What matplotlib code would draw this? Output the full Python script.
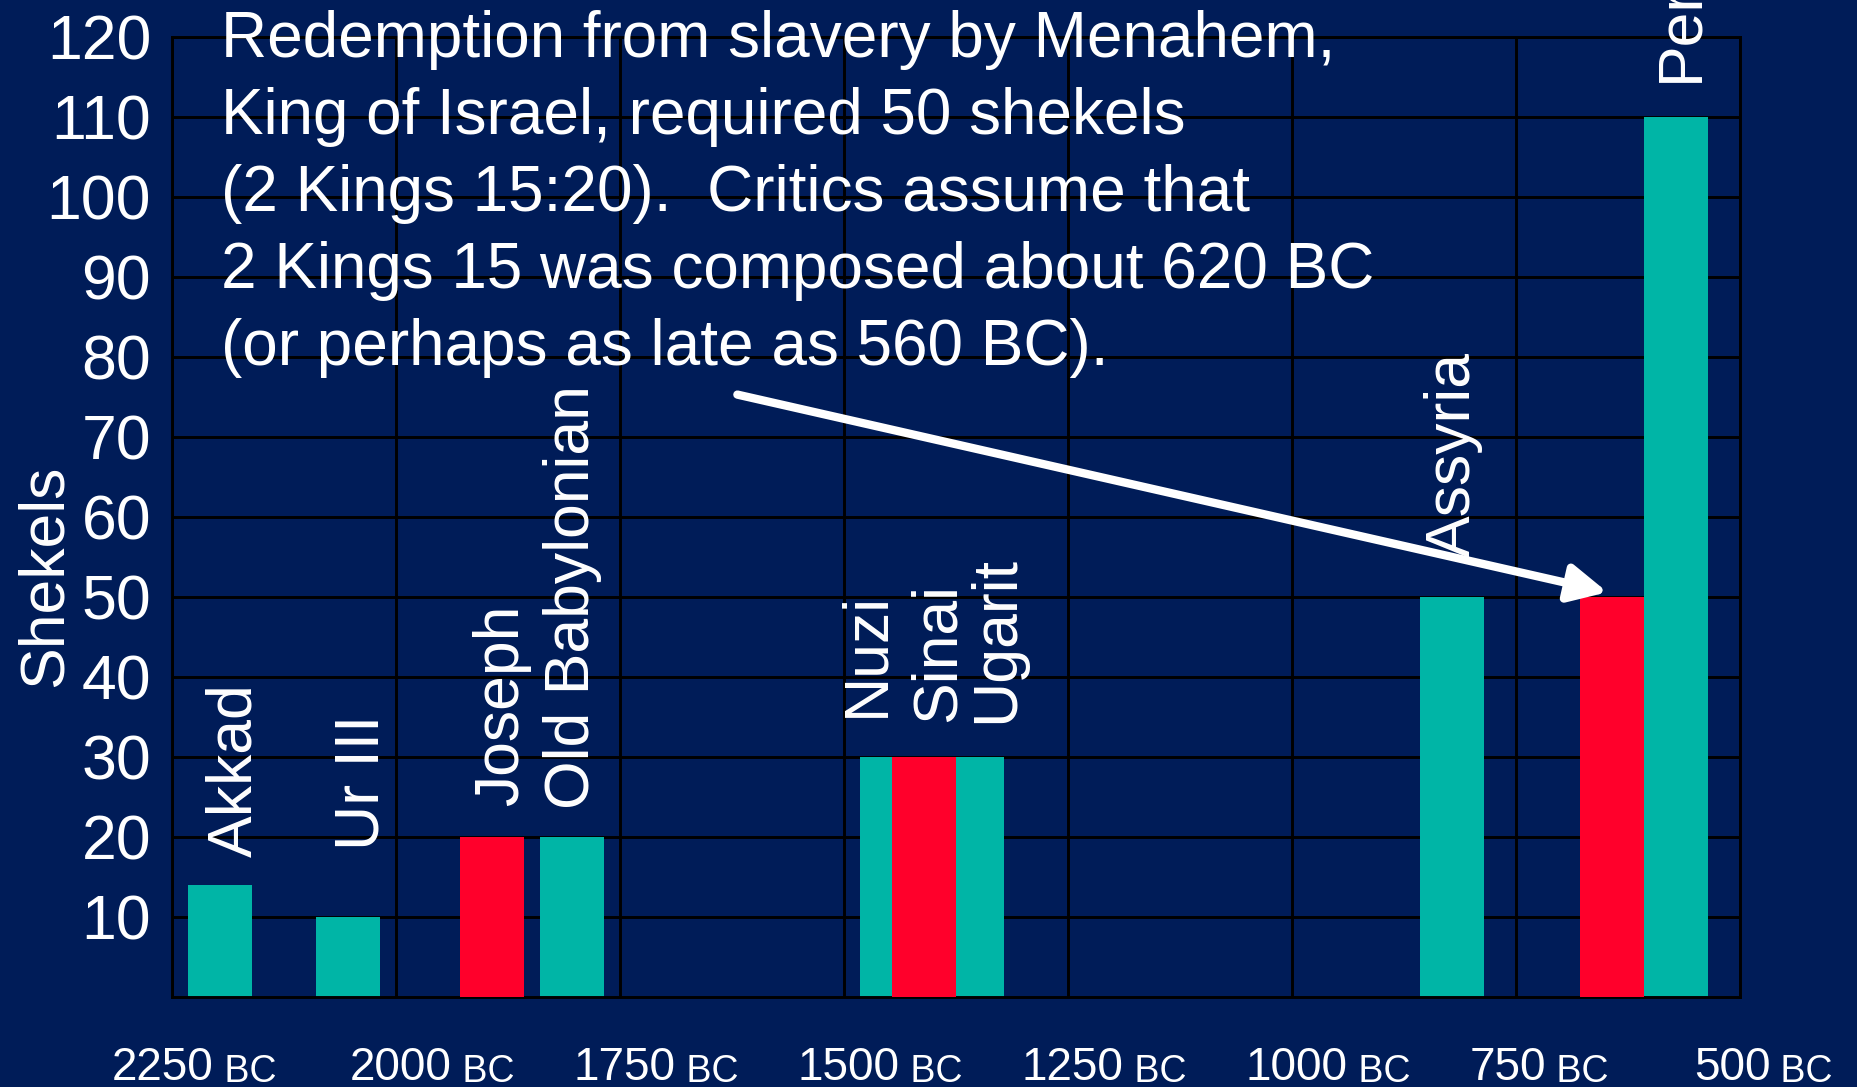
import matplotlib
matplotlib.use("Agg")
import matplotlib.pyplot as plt
from matplotlib.transforms import ScaledTranslation

plt.rcParams['font.family'] = ['Liberation Sans', 'DejaVu Sans']

BG = '#001C58'
TEAL = '#00B5A6'
RED = '#FF002B'

# bars: position in years BC, height in shekels
teal_names = ['Akkad', 'Ur III', 'Old Babylonian', 'Nuzi', 'Ugarit', 'Assyria', 'Persia']
teal_years = [2196, 2054, 1804, 1446, 1357, 821, 571]
teal_shekels = [14, 10, 20, 30, 30, 50, 110]

red_names = ['Joseph', 'Sinai', 'Menahem']
red_years = [1893, 1411, 643]
red_shekels = [20, 30, 50]

# rotated labels and where they start (year BC, shekels)
label_names = ['Akkad', 'Ur III', 'Joseph', 'Old Babylonian', 'Nuzi', 'Sinai', 'Ugarit', 'Assyria', 'Persia']
label_years = [2161, 2020, 1864, 1785, 1456, 1377, 1311, 802, 548]
label_shekels = [17.5, 18.4, 23.9, 23.5, 35, 34.4, 34.3, 55, 114.4]

year_ticks = [2250, 2000, 1750, 1500, 1250, 1000, 750, 500]
shekel_ticks = [10, 20, 30, 40, 50, 60, 70, 80, 90, 100, 110, 120]

note_lines = [
    "Redemption from slavery by Menahem,",
    "King of Israel, required 50 shekels",
    "(2 Kings 15:20).  Critics assume that",
    "2 Kings 15 was composed about 620 BC",
    "(or perhaps as late as 560 BC).",
]
arrow_from = (1619, 75.3)
arrow_to = (648, 50.6)

BAR_W = 71.4  # years

fig = plt.figure(figsize=(18.58, 10.87), dpi=100, facecolor=BG)
ax = fig.add_axes([172 / 1858, 1 - 997 / 1087, 1568 / 1858, 960 / 1087])
ax.set_facecolor(BG)

ax.bar(teal_years, teal_shekels, width=BAR_W, color=TEAL, zorder=2)
ax.bar(red_years, red_shekels, width=BAR_W, color=RED, zorder=3)

ax.set_xlim(2250, 500)
ax.set_ylim(0, 120)
ax.set_xticks(year_ticks)
ax.set_xticklabels([])
ax.set_yticks(shekel_ticks)
ax.set_yticklabels([str(t) for t in shekel_ticks])
ax.tick_params(length=0, labelsize=45, labelcolor='white', pad=15)
ax.grid(True, color='black', linewidth=2.1, zorder=1)
ax.set_axisbelow(True)
for sp in ax.spines.values():
    sp.set_color('black')
    sp.set_linewidth(2.1)

ax.set_ylabel('Shekels', fontsize=45, color='white')
ax.yaxis.set_label_coords(-0.062, 0.4385)

# x labels: big year number + smaller "BC"
xform = ax.get_xaxis_transform() + ScaledTranslation(-46 / 100, 0, fig.dpi_scale_trans)
for i, yr in enumerate(year_ticks):
    shift = -0.14 if i == 0 else 0
    tr = xform + ScaledTranslation(shift, 0, fig.dpi_scale_trans)
    t = ax.text(yr, -0.0865, str(yr), transform=tr, fontsize=33, color='white',
                ha='left', va='baseline', clip_on=False)
    ax.annotate(' BC', xy=(1, 0), xycoords=t, fontsize=27, color='white',
                ha='left', va='bottom', annotation_clip=False)

for name, yr, val in zip(label_names, label_years, label_shekels):
    ax.text(yr, val, name, rotation=90, rotation_mode='anchor', ha='left', va='baseline',
            fontsize=45, color='white', zorder=4)

for i, line in enumerate(note_lines):
    fig.text(221 / 1858, 1 - (57 + 77 * i) / 1087, line, fontsize=46, color='white',
             ha='left', va='baseline')

ax.annotate('', xy=arrow_to, xytext=arrow_from,
            arrowprops=dict(arrowstyle='-|>', color='white', lw=6, mutation_scale=57,
                            shrinkA=0, shrinkB=0), zorder=5)

fig.savefig('out.png', dpi=100, facecolor=BG)
